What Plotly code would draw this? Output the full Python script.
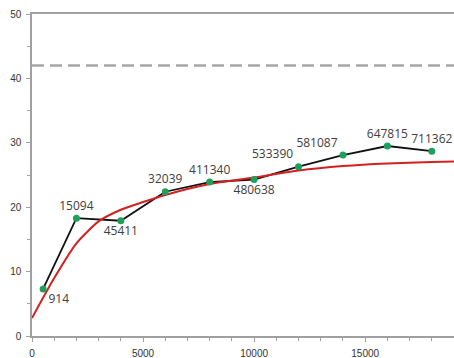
import plotly.graph_objects as go

# Observed data points
x_obs = [500, 2000, 4000, 6000, 8000, 10000, 12000, 14000, 16000, 18000]
y_obs = [7.3, 18.3, 17.9, 22.4, 23.9, 24.3, 26.3, 28.1, 29.5, 28.7]
point_labels = ["914", "15094", "45411", "32039", "411340", "480638",
                "533390", "581087", "647815", "711362"]
label_pos = ["bottom right", "top center", "bottom center", "top center", "top center",
             "bottom center", "top left", "top left", "top center", "top center"]

# Fitted (red) curve
x_fit = [0, 1000, 2000, 3000, 4000, 5000, 6000, 8000, 10000, 12000, 14000, 16000, 18000, 19000]
y_fit = [2.8, 9.0, 14.4, 17.8, 19.6, 20.8, 21.9, 23.6, 24.6, 25.7, 26.4, 26.8, 27.0, 27.1]

# Reference level (dashed)
threshold = 42

fig = go.Figure()
fig.add_trace(go.Scatter(x=x_obs, y=y_obs, mode="lines",
                         line=dict(color="#111111", width=1.8), hoverinfo="skip"))
fig.add_trace(go.Scatter(x=x_fit, y=y_fit, mode="lines", line_shape="spline",
                         line=dict(color="#d42020", width=2, smoothing=0.6), hoverinfo="skip"))
fig.add_trace(go.Scatter(x=x_obs, y=y_obs, mode="markers+text",
                         marker=dict(color="#1fa05a", size=7),
                         text=point_labels, textposition=label_pos,
                         textfont=dict(family="Open Sans", size=12, color="#404040"),
                         cliponaxis=False))

fig.add_shape(type="line", xref="paper", x0=0, x1=1, yref="y", y0=threshold, y1=threshold,
              line=dict(color="#a6a6a6", width=2.5, dash="12px,6px"), layer="below")

axis_col = "#a0a0a0"
fig.update_layout(
    width=454, height=358,
    margin=dict(l=32, r=0, t=14, b=22),
    paper_bgcolor="white", plot_bgcolor="white",
    showlegend=False,
    font=dict(family="Liberation Sans", size=10, color="#333333"),
    xaxis=dict(range=[0, 19000], tick0=0, dtick=5000, tickformat="d",
               showgrid=False, zeroline=False,
               showline=True, linecolor=axis_col, linewidth=1.5, mirror=True,
               ticks="outside", ticklen=4, tickcolor=axis_col, tickwidth=1,
               ticklabelstandoff=3,
               minor=dict(dtick=1000, ticks="outside", ticklen=3, tickcolor=axis_col),
               tickfont=dict(family="Liberation Sans", size=10, color="#333333")),
    yaxis=dict(range=[0, 50], tick0=0, dtick=10, tickformat="d",
               showgrid=False, zeroline=False,
               showline=True, linecolor=axis_col, linewidth=1.5,
               ticks="outside", ticklen=4, tickcolor=axis_col, tickwidth=1,
               ticklabelstandoff=3,
               minor=dict(dtick=5, ticks="outside", ticklen=3, tickcolor=axis_col),
               tickfont=dict(family="Liberation Sans", size=10, color="#333333")),
)

fig.write_html("out.html", config={"displayModeBar": False},
               post_script="document.body.style.margin='0';document.body.style.overflow='hidden';")
